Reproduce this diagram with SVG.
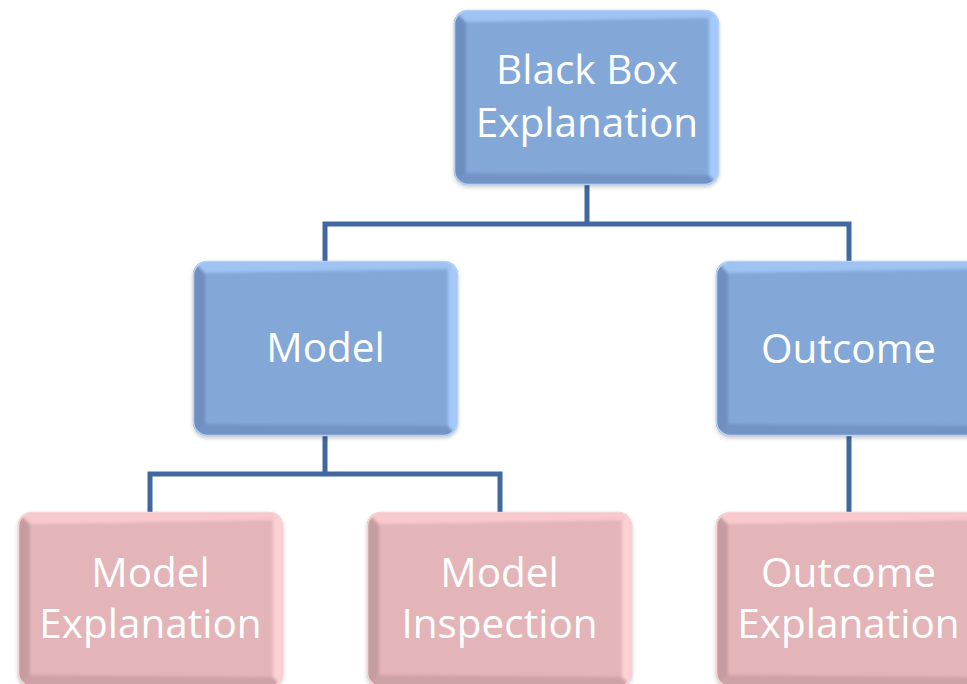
<svg xmlns="http://www.w3.org/2000/svg" xmlns:xlink="http://www.w3.org/1999/xlink" width="967" height="684" viewBox="0 0 967 684">
  <style>
    .label { font-family: "Open Sans", "Noto Sans", "Liberation Sans", sans-serif; font-size: 40.5px; fill: #ffffff; text-anchor: middle; }
    .link { fill: none; stroke: #4168a0; stroke-width: 5; stroke-linecap: butt; stroke-linejoin: miter; }
  </style>
  <defs>
    <filter id="shadow" x="-10%" y="-10%" width="120%" height="125%">
      <feDropShadow dx="0" dy="2" stdDeviation="2" flood-color="#000000" flood-opacity="0.22"/>
    </filter>
    <filter id="soft" x="-5%" y="-5%" width="110%" height="110%">
      <feGaussianBlur stdDeviation="1.6"/>
    </filter>
    <clipPath id="boxClip">
      <rect x="0" y="0" width="265" height="175" rx="14"/>
    </clipPath>

    <!-- bevelled rounded box, blue -->
    <g id="boxBlue">
      <rect x="0" y="0" width="265" height="175" rx="14" fill="#83a7d7" filter="url(#shadow)"/>
      <g clip-path="url(#boxClip)">
        <g filter="url(#soft)">
          <polygon points="0,0 12,12 12,163 0,175" fill="#6e8ec0"/>
          <polygon points="0,175 12,163 255,165 265,175" fill="#7393c5"/>
          <polygon points="0,0 265,0 255,8 12,12" fill="#9fc3f3"/>
          <polygon points="265,0 265,175 255,165 255,8" fill="#a4c9fa"/>
        </g>
      </g>
      <rect x="0.5" y="0.5" width="264" height="174" rx="14" fill="none" stroke="#b4d2f6" stroke-width="1.5"/>
    </g>

    <!-- bevelled rounded box, pink -->
    <g id="boxPink">
      <rect x="0" y="0" width="265" height="175" rx="14" fill="#e3b5b9" filter="url(#shadow)"/>
      <g clip-path="url(#boxClip)">
        <g filter="url(#soft)">
          <polygon points="0,0 12,12 12,163 0,175" fill="#c79ca0"/>
          <polygon points="0,175 12,163 255,165 265,175" fill="#cda2a6"/>
          <polygon points="0,0 265,0 255,8 12,12" fill="#f9c9cd"/>
          <polygon points="265,0 265,175 255,165 255,8" fill="#fdd0d4"/>
        </g>
      </g>
      <rect x="0.5" y="0.5" width="264" height="174" rx="14" fill="none" stroke="#f6d3d6" stroke-width="1.5"/>
    </g>
  </defs>

  <rect x="0" y="0" width="967" height="684" fill="#ffffff"/>

  <!-- tree connectors -->
  <g id="connectors">
    <path class="link" d="M587,185 V224 M325,261 V224 H849 V261"/>
    <path class="link" d="M325,435 V474 M150,512 V474 H500 V512"/>
    <path class="link" d="M849,435 V512"/>
  </g>

  <g id="node-black-box">
    <use xlink:href="#boxBlue" href="#boxBlue" transform="translate(454,10)"/>
    <text class="label" x="587" y="84">Black Box</text>
    <text class="label" x="587" y="137">Explanation</text>
  </g>

  <g id="node-model">
    <use xlink:href="#boxBlue" href="#boxBlue" transform="translate(193,261)"/>
    <text class="label" x="325.5" y="362">Model</text>
  </g>

  <g id="node-outcome">
    <use xlink:href="#boxBlue" href="#boxBlue" transform="translate(716,261)"/>
    <text class="label" x="848.5" y="363">Outcome</text>
  </g>

  <g id="node-model-explanation">
    <use xlink:href="#boxPink" href="#boxPink" transform="translate(18,512)"/>
    <text class="label" x="150.5" y="587">Model</text>
    <text class="label" x="150.5" y="638">Explanation</text>
  </g>

  <g id="node-model-inspection">
    <use xlink:href="#boxPink" href="#boxPink" transform="translate(367,512)"/>
    <text class="label" x="499.5" y="587">Model</text>
    <text class="label" x="499.5" y="638">Inspection</text>
  </g>

  <g id="node-outcome-explanation">
    <use xlink:href="#boxPink" href="#boxPink" transform="translate(716,512)"/>
    <text class="label" x="848.5" y="587">Outcome</text>
    <text class="label" x="848.5" y="638">Explanation</text>
  </g>
</svg>
